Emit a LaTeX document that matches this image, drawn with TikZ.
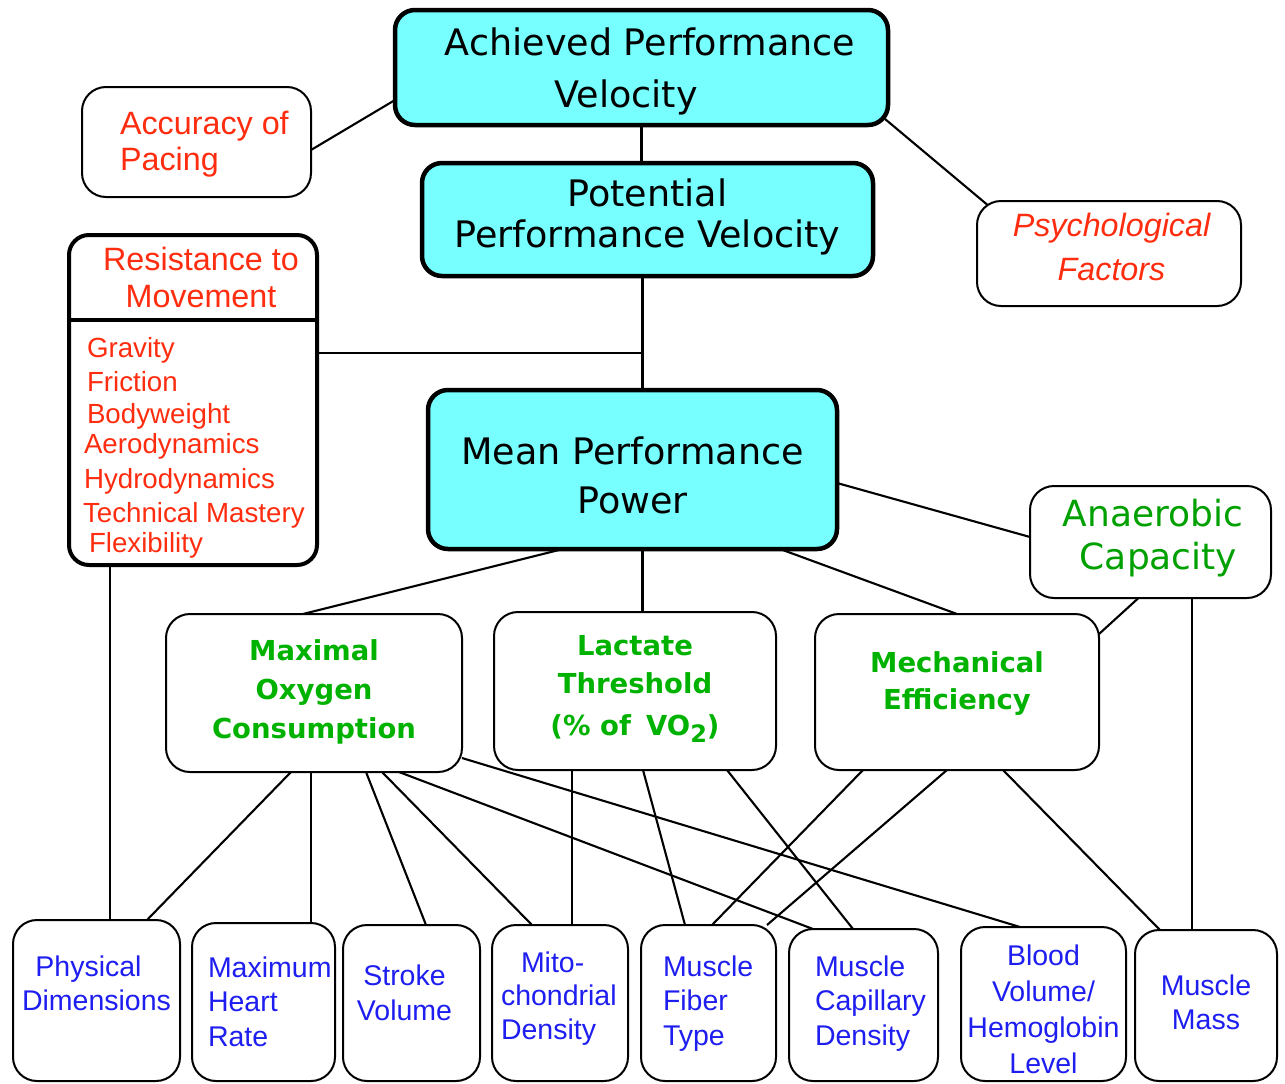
\documentclass[tikz,border=0pt]{standalone}
\usepackage{fontspec}
\setmainfont{Liberation Sans}
\newfontfamily\dvs{DejaVu Sans}
\usetikzlibrary{backgrounds}
\definecolor{cyanfill}{RGB}{119,255,255}
\definecolor{redtxt}{RGB}{255,45,15}
\definecolor{greentxt}{RGB}{0,178,0}
\definecolor{greenreg}{RGB}{0,160,0}
\definecolor{bluetxt}{RGB}{30,30,240}
\newcommand\bxt[5]{\parbox[c][#2pt][t]{#1pt}{#3\rule{0pt}{#4pt}#5}}
\newcommand\hsp[1]{\rule{#1pt}{0pt}}
\tikzset{
  basebox/.style={draw=black, inner sep=0pt, outer sep=0pt, anchor=north west},
  thickbox/.style={basebox, line width=4.5pt, fill=cyanfill, rounded corners=20pt},
  thinbox/.style={basebox, line width=2pt, fill=white, rounded corners=24pt},
  conn/.style={line width=2.1pt},
  blacktxt/.style={font=\dvs\fontsize{36.5}{#1}\selectfont},
  redbig/.style={text=redtxt, font=\fontsize{32.3}{#1}\selectfont},
  greenbold/.style={text=greentxt, font=\dvs\bfseries\fontsize{27.5}{#1}\selectfont},
  bluesmall/.style={text=bluetxt, font=\fontsize{28.5}{#1}\selectfont},
}
\begin{document}
\begin{tikzpicture}[x=1pt,y=-1pt]
\useasboundingbox (0,0) rectangle (1285,1084);
% top level
\node[thickbox, blacktxt=52] (ach) at (395,10)
  {\bxt{493}{115}{\centering}{45}{\hsp{17}Achieved Performance\\Velocity\hsp{31}}};
\node[thinbox, redbig=36] (acc) at (82,87)
  {\bxt{229}{110}{\raggedright\leftskip=38pt}{47}{Accuracy of\\Pacing}};
\node[thickbox, blacktxt=41] (pot) at (422,163)
  {\bxt{451}{113}{\centering}{43}{Potential\\Performance Velocity}};
\node[thinbox, text=redtxt, font=\itshape\fontsize{32.3}{44}\selectfont] (psy) at (977,201)
  {\bxt{264}{105}{\centering}{35}{\hsp{5}Psychological\\\hsp{5}Factors}};
% resistance
\node[basebox, line width=4pt, fill=white, rounded corners=20pt, text=redtxt] (res) at (69,235)
  {\parbox[c][330pt][t]{248pt}{\fontsize{32.3}{37}\selectfont\centering
   \rule{0pt}{35pt}\hsp{16}Resistance to\\\hsp{16}Movement\par
   \vspace{18pt}\fontsize{27.7}{32}\selectfont\raggedright\leftskip=14pt
   \hsp{4}Gravity\\[2pt]\hsp{4}Friction\\\hsp{4}Bodyweight\\[-2pt]\hsp{1}Aerodynamics\\[3pt]%
   \hsp{1}Hydrodynamics\\[2pt]Technical Mastery\\[-2pt]\hsp{6}Flexibility\par}};
\draw[line width=4pt] ([yshift=-85pt]res.north west) -- ([yshift=-85pt]res.north east);
% mean
\node[thickbox, blacktxt=49] (mean) at (428,390)
  {\bxt{409}{159}{\centering}{74}{Mean Performance\\Power}};
\node[thinbox, text=greenreg, font=\dvs\fontsize{36}{43}\selectfont] (ana) at (1030,486)
  {\bxt{241}{112}{\centering}{40}{\hsp{5}Anaerobic\\\hsp{16}Capacity}};
% middle row
\node[thinbox, greenbold=39] (max) at (166,614)
  {\bxt{296}{158}{\centering}{46}{Maximal\\Oxygen\\Consumption}};
\node[thinbox, greenbold=38] (lac) at (494,612)
  {\bxt{282}{158}{\centering}{43}{Lactate\\Threshold\\[4pt](\%~of\hspace{0.55em}VO\raisebox{-7pt}{\fontsize{24}{24}\selectfont 2})}};
\node[thinbox, greenbold=37] (mec) at (815,614)
  {\bxt{284}{156}{\centering}{58}{Mechanical\\Efficiency}};
% bottom row
\node[thinbox, bluesmall=34] (phys) at (13,920)
  {\bxt{167}{161}{\centering}{56}{Physical\hsp{16}\\Dimensions}};
\node[thinbox, bluesmall=34.5] (mhr) at (192,923)
  {\bxt{143}{158}{\raggedright\leftskip=16pt}{54}{Maximum\\Heart\\Rate}};
\node[thinbox, bluesmall=35] (str) at (343,925)
  {\bxt{137}{156}{\centering}{60}{Stroke\hsp{14}\\Volume\hsp{14}}};
\node[thinbox, bluesmall=33.5] (mito) at (492,925)
  {\bxt{136}{156}{\raggedright\leftskip=9pt}{47}{\hsp{20}Mito-\\chondrial\\Density}};
\node[thinbox, bluesmall=34.5] (fib) at (641,925)
  {\bxt{135}{156}{\raggedright\leftskip=22pt}{51}{Muscle\\Fiber\\Type}};
\node[thinbox, bluesmall=34.5] (cap) at (789,929)
  {\bxt{149}{152}{\raggedright\leftskip=26pt}{47}{Muscle\\Capillary\\Density}};
\node[thinbox, bluesmall=36] (blood) at (961,927)
  {\bxt{165}{154}{\centering}{38}{Blood\\Volume/\\Hemoglobin\\Level}};
\node[thinbox, bluesmall=34] (mass) at (1135,930)
  {\bxt{142}{151}{\centering}{65}{Muscle\\Mass}};
\coordinate (jn) at (642.5,353);
\begin{pgfonlayer}{background}
\fill[white] (0,0) rectangle (1285,1084);
\draw[conn] ([yshift=-32.5pt]ach.west) -- ([yshift=-8pt]acc.east);
\draw[conn] (ach.south) -- (ach.south |- pot.north);
\draw[conn] ([xshift=-3pt,yshift=6pt]ach.south east) -- ([xshift=13pt,yshift=-6pt]psy.north west);
\draw[conn] ([xshift=-5pt]pot.south) -- ([xshift=10pt]mean.north);
\draw[conn] (res.east |- jn) -- (jn);
\draw[conn] ([yshift=-13.5pt]mean.east) -- ([yshift=5pt]ana.west);
\draw[conn] ([xshift=-69.5pt]mean.south) -- ([xshift=-11pt]max.north);
\draw[conn] ([xshift=10pt]mean.south) -- ([xshift=7.5pt]lac.north);
\draw[conn] ([xshift=147.5pt]mean.south) -- (mec.north);
\draw[conn] ([xshift=-12pt]ana.south) -- ([yshift=-20pt]mec.north east);
\draw[conn] ([xshift=41.5pt]ana.south) -- ([xshift=-14pt]mass.north);
\draw[conn] ([xshift=-83pt]res.south) -- ([xshift=13.5pt]phys.north);
\draw[conn] ([xshift=-23pt]max.south) -- ([xshift=50.5pt]phys.north);
\draw[conn] ([xshift=-3pt]max.south) -- ([xshift=47.5pt]mhr.north);
\draw[conn] ([xshift=52pt]max.south) -- ([xshift=14.5pt]str.north);
\draw[conn] ([xshift=68pt]max.south) -- ([xshift=-28pt]mito.north);
\draw[conn] ([xshift=85pt]max.south) -- ([xshift=-50.5pt]cap.north);
\draw[conn] ([yshift=-65pt]max.east) -- ([xshift=-23.5pt]blood.north);
\draw[conn] ([xshift=-63pt]lac.south) -- ([xshift=12pt]mito.north);
\draw[conn] ([xshift=8pt]lac.south) -- ([xshift=-23.5pt]fib.north);
\draw[conn] ([xshift=92pt]lac.south) -- ([xshift=-10.5pt]cap.north);
\draw[conn] ([xshift=-94pt]mec.south) -- ([xshift=3.5pt]fib.north);
\draw[conn] ([xshift=-10pt]mec.south) -- ([xshift=-9pt]fib.north east);
\draw[conn] ([xshift=46pt]mec.south) -- ([xshift=-46pt]mass.north);
\end{pgfonlayer}
\end{tikzpicture}
\end{document}
